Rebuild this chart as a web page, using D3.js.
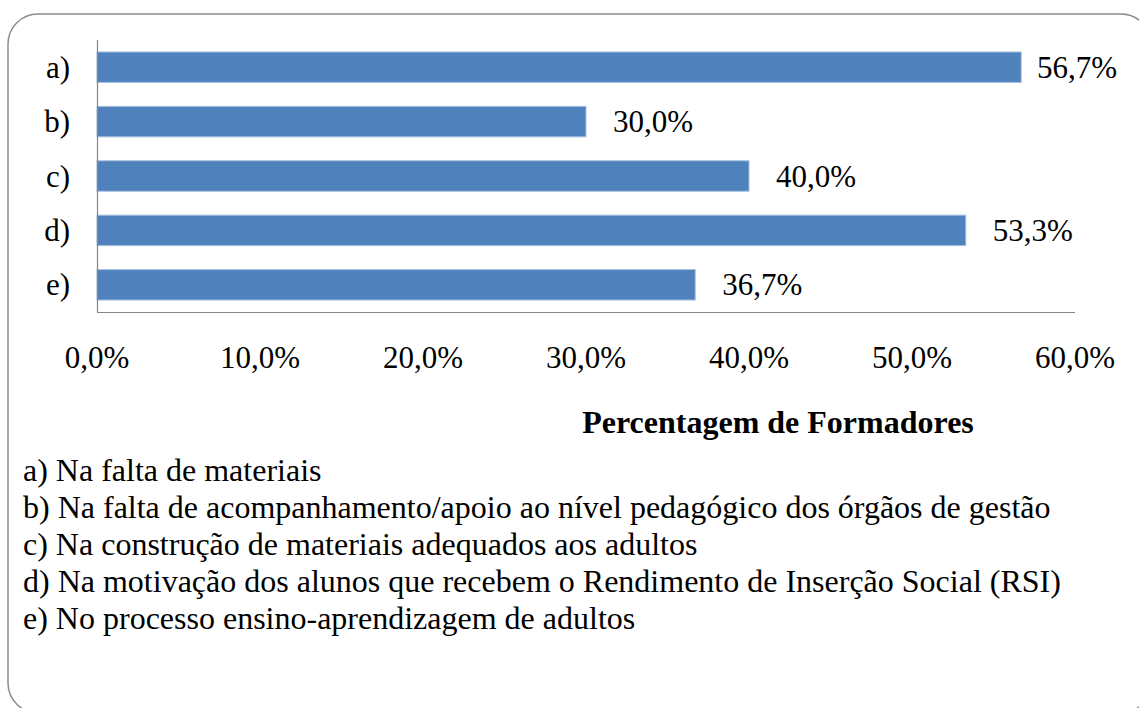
<!DOCTYPE html>
<html>
<head>
<meta charset="utf-8">
<script src="https://cdnjs.cloudflare.com/ajax/libs/d3/7.8.5/d3.min.js"></script>
<style>
body { margin: 0; background: #fff; }
text { font-family: "Liberation Serif", "Times New Roman", serif; fill: #000; }
</style>
</head>
<body>
<svg width="1139" height="708"></svg>
<script>
var categories = ["a)", "b)", "c)", "d)", "e)"];
var values = [56.7, 30.0, 40.0, 53.3, 36.7];
var ticks = [0, 10, 20, 30, 40, 50, 60];
var axisTitle = "Percentagem de Formadores";
var legendLines = [
  "a) Na falta de materiais",
  "b) Na falta de acompanhamento/apoio ao nível pedagógico dos órgãos de gestão",
  "c) Na construção de materiais adequados aos adultos",
  "d) Na motivação dos alunos que recebem o Rendimento de Inserção Social (RSI)",
  "e) No processo ensino-aprendizagem de adultos"
];

var svg = d3.select("svg");
var fmt = v => d3.format(".1f")(v).replace(".", ",") + "%";

// frame
svg.append("rect")
  .attr("x", 8).attr("y", 14)
  .attr("width", 1143).attr("height", 699)
  .attr("rx", 30).attr("ry", 30)
  .attr("fill", "none")
  .attr("stroke", "#8c8c8c")
  .attr("stroke-width", 1.5);

var x = d3.scaleLinear().domain([0, 60]).range([97, 1075]);
var y = d3.scaleBand().domain(categories).range([40, 312])
  .paddingInner(0.44).paddingOuter(0.22);

// bars
svg.append("g").selectAll("rect")
  .data(values)
  .enter().append("rect")
  .attr("x", x(0))
  .attr("y", (d, i) => y(categories[i]))
  .attr("width", d => x(d) - x(0))
  .attr("height", y.bandwidth())
  .attr("fill", "#4f81bd")
  .attr("stroke", "#a7c0de")
  .attr("stroke-width", 1);

// axes lines
svg.append("line")
  .attr("x1", x(0) + 0.5).attr("x2", x(0) + 0.5)
  .attr("y1", 40).attr("y2", 312)
  .attr("stroke", "#868686").attr("stroke-width", 1.2);
svg.append("line")
  .attr("x1", x(0)).attr("x2", x(60))
  .attr("y1", 312.5).attr("y2", 312.5)
  .attr("stroke", "#868686").attr("stroke-width", 1.2);

// category labels
svg.append("g").selectAll("text")
  .data(categories)
  .enter().append("text")
  .attr("x", 70)
  .attr("y", d => y(d) + y.bandwidth() / 2)
  .attr("dy", "0.34em")
  .attr("text-anchor", "end")
  .style("font-size", "31px")
  .text(d => d);

// value labels
svg.append("g").selectAll("text")
  .data(values)
  .enter().append("text")
  .attr("x", d => Math.min(x(d) + 27, 1037))
  .attr("y", (d, i) => y(categories[i]) + y.bandwidth() / 2)
  .attr("dy", "0.34em")
  .style("font-size", "31px")
  .text(fmt);

// tick labels
svg.append("g").selectAll("text")
  .data(ticks)
  .enter().append("text")
  .attr("x", d => x(d))
  .attr("y", 368)
  .attr("text-anchor", "middle")
  .style("font-size", "31px")
  .text(fmt);

svg.append("text")
  .attr("x", 778).attr("y", 433)
  .attr("text-anchor", "middle")
  .style("font-size", "32px")
  .style("font-weight", "bold")
  .text(axisTitle);

// legend
svg.append("g").selectAll("text")
  .data(legendLines)
  .enter().append("text")
  .attr("x", 23)
  .attr("y", (d, i) => 481 + i * 37)
  .style("font-size", "32px")
  .text(d => d);
</script>
</body>
</html>
